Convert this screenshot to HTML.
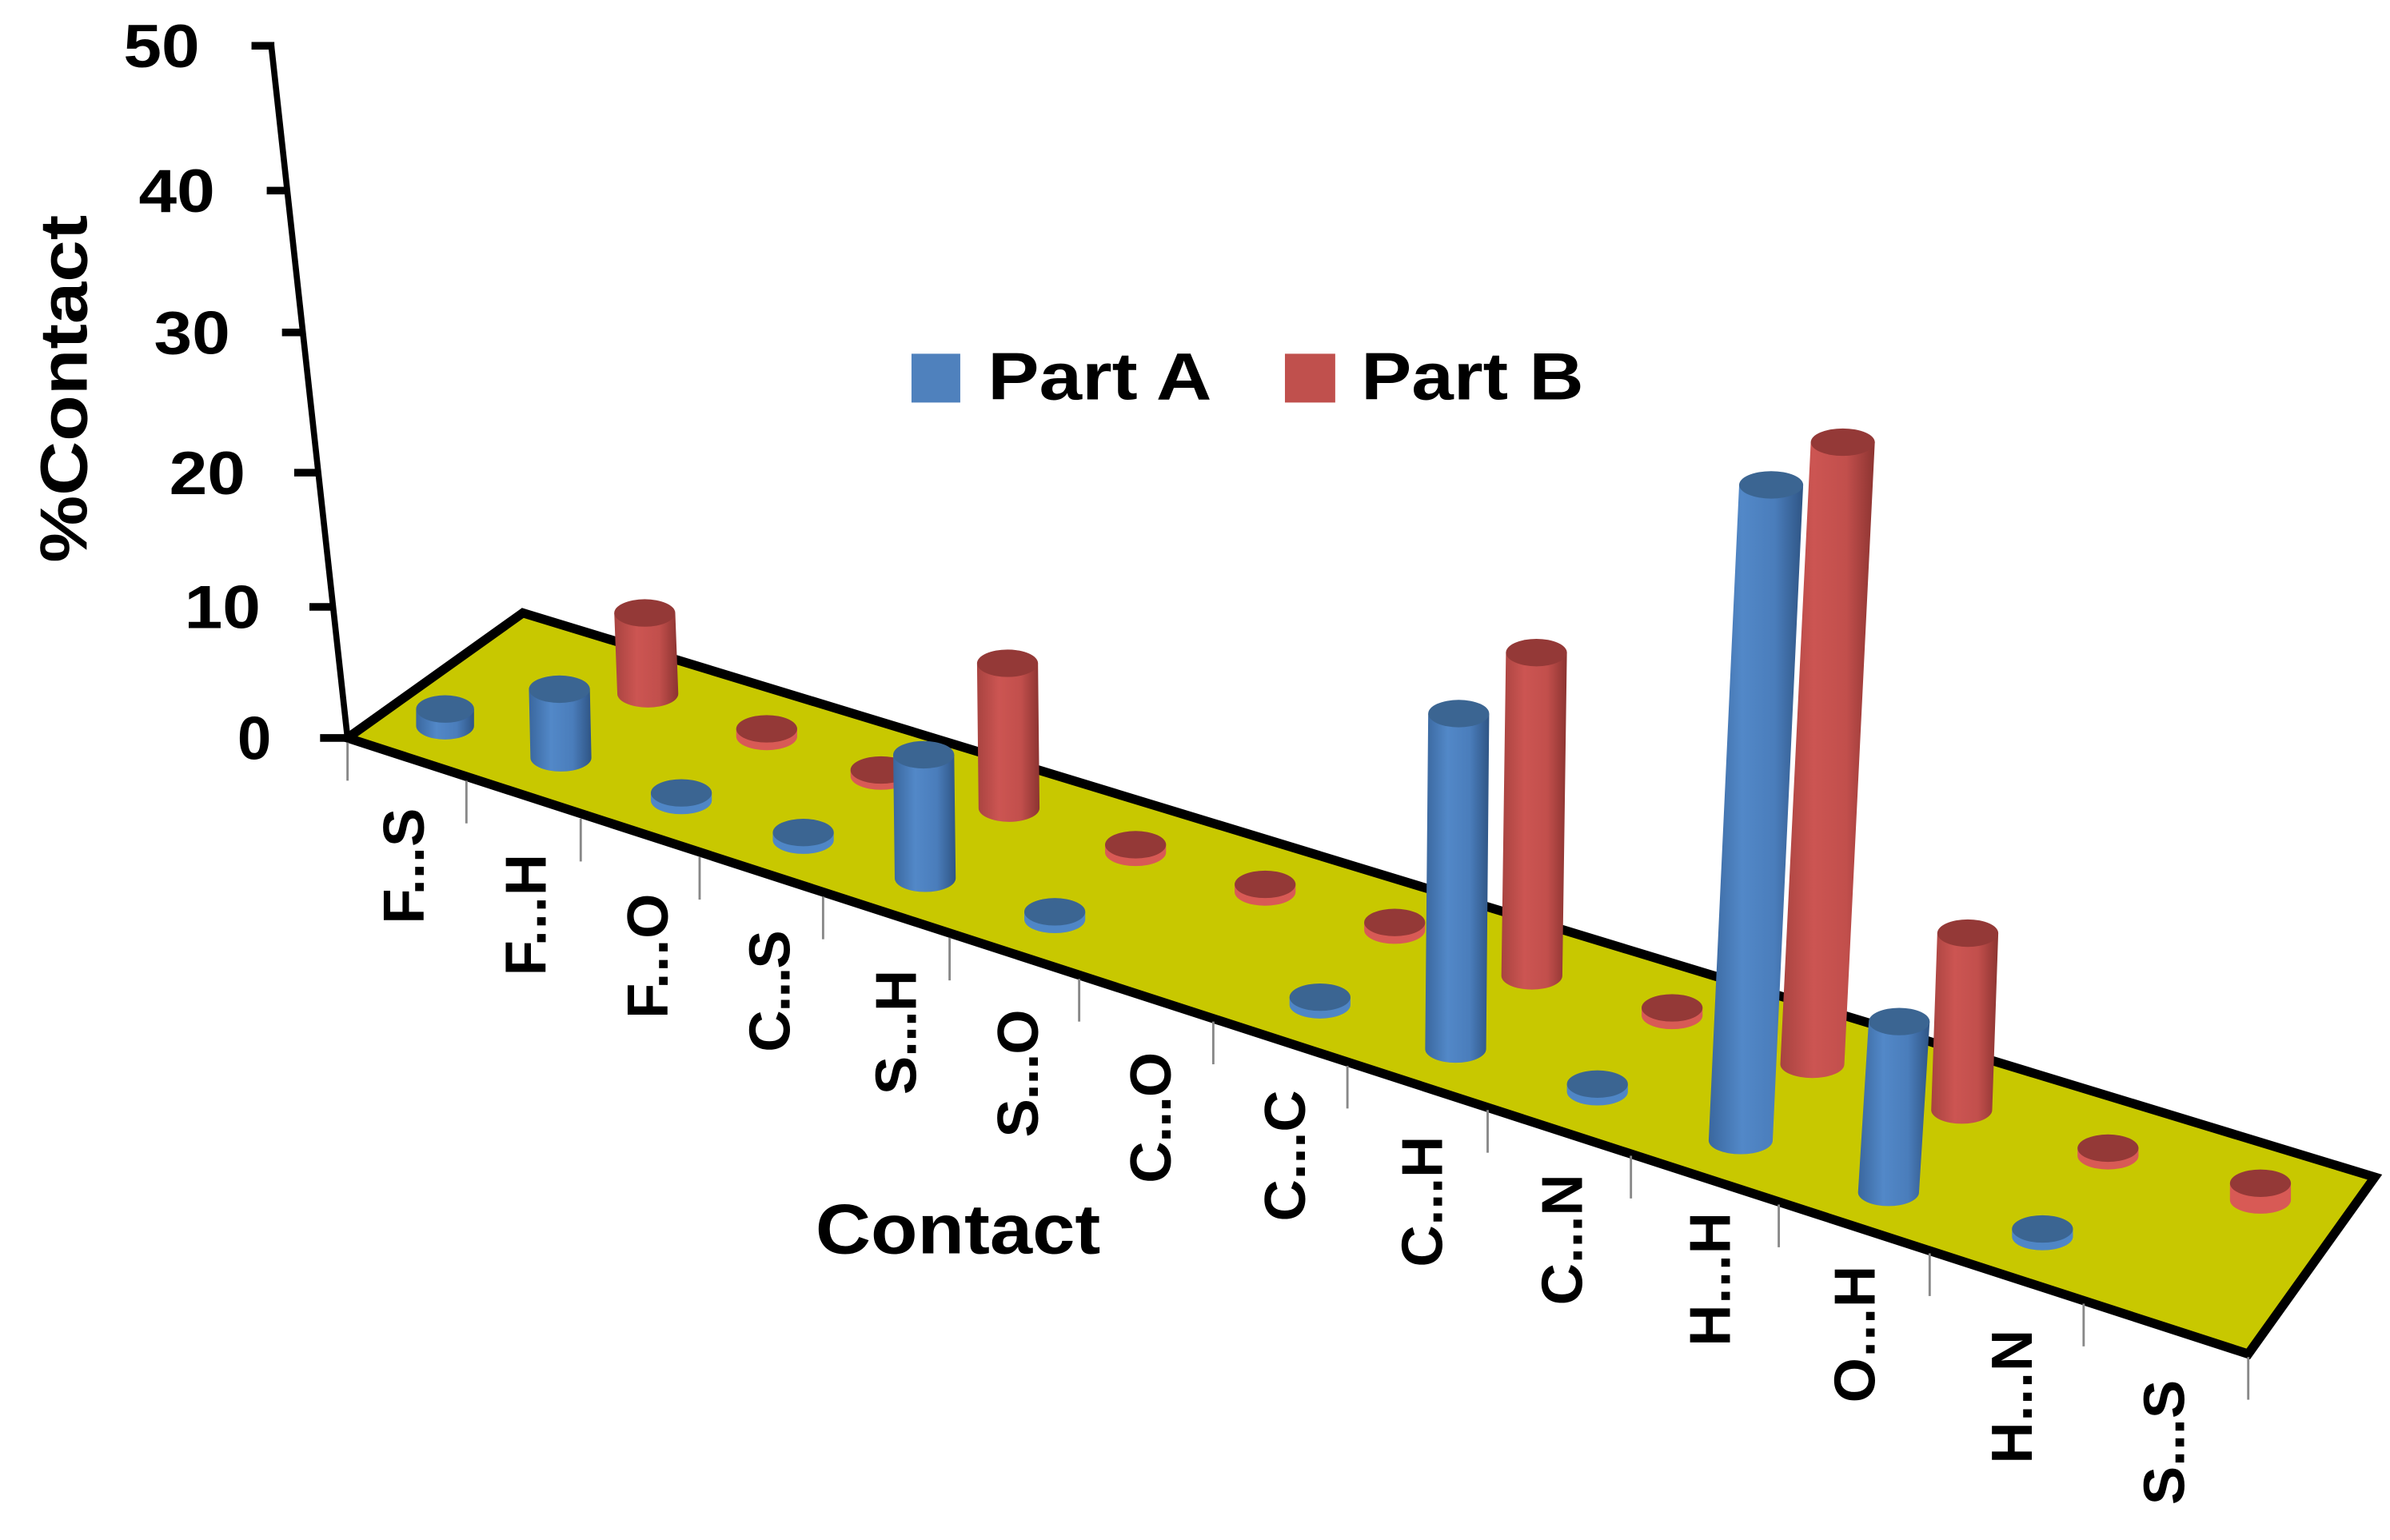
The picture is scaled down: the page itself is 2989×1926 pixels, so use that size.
<!DOCTYPE html>
<html><head><meta charset="utf-8"><style>html,body{margin:0;padding:0;background:#fff}svg{display:block}</style></head>
<body>
<svg width="2989" height="1926" viewBox="0 0 1568 1010" preserveAspectRatio="none" xmlns="http://www.w3.org/2000/svg">
<defs>
<linearGradient id="gb" x1="0" x2="1" y1="0" y2="0"><stop offset="0" stop-color="#3a679e"/><stop offset="0.35" stop-color="#5288c8"/><stop offset="0.7" stop-color="#4a7dbb"/><stop offset="1" stop-color="#2f5585"/></linearGradient>
<linearGradient id="gr" x1="0" x2="1" y1="0" y2="0"><stop offset="0" stop-color="#a84340"/><stop offset="0.35" stop-color="#cc5552"/><stop offset="0.7" stop-color="#c24f4c"/><stop offset="1" stop-color="#8c3431"/></linearGradient>
</defs>
<g font-family="Liberation Sans, sans-serif" font-weight="bold">
<line x1="178" y1="30" x2="228" y2="484" stroke="#000" stroke-width="4"/>
<g stroke="#000" stroke-width="5">
<line x1="165" y1="30" x2="180" y2="30"/>
<line x1="175" y1="125" x2="189" y2="125"/>
<line x1="185" y1="218" x2="199" y2="218"/>
<line x1="193" y1="310" x2="208" y2="310"/>
<line x1="203" y1="398" x2="217" y2="398"/>
<line x1="210" y1="484" x2="228" y2="484"/>
</g>
<g font-size="40" text-anchor="end">
<text x="131" y="44" textLength="50" lengthAdjust="spacingAndGlyphs">50</text>
<text x="141" y="139" textLength="50" lengthAdjust="spacingAndGlyphs">40</text>
<text x="151" y="232" textLength="50" lengthAdjust="spacingAndGlyphs">30</text>
<text x="161" y="324" textLength="50" lengthAdjust="spacingAndGlyphs">20</text>
<text x="171" y="412" textLength="50" lengthAdjust="spacingAndGlyphs">10</text>
<text x="178" y="498">0</text>
</g>
<text transform="translate(57,255) rotate(-90)" font-size="44" text-anchor="middle" textLength="228" lengthAdjust="spacingAndGlyphs">%Contact</text>
<polygon points="228,484 343,402 1558,772 1475,888" fill="#c8c800" stroke="#000" stroke-width="6" stroke-linejoin="miter"/>
<g stroke="#888" stroke-width="1.5">
<line x1="228" y1="487" x2="228" y2="512"/><line x1="306" y1="512" x2="306" y2="540"/><line x1="381" y1="537" x2="381" y2="565"/><line x1="459" y1="562" x2="459" y2="590"/><line x1="540" y1="588" x2="540" y2="616"/><line x1="623" y1="615" x2="623" y2="643"/><line x1="708" y1="642" x2="708" y2="670"/><line x1="796" y1="670" x2="796" y2="698"/><line x1="884" y1="699" x2="884" y2="727"/><line x1="976" y1="728" x2="976" y2="756"/><line x1="1070" y1="758" x2="1070" y2="786"/><line x1="1167" y1="790" x2="1167" y2="818"/><line x1="1266" y1="822" x2="1266" y2="850"/><line x1="1367" y1="855" x2="1367" y2="883"/><line x1="1475" y1="890" x2="1475" y2="918"/>
</g>
<g>
<path d="M403,402 L405,455 A20,9 0 0 0 445,455 L443,402 Z" fill="url(#gr)"/><ellipse cx="423" cy="402" rx="20" ry="9" fill="#943937"/>
<path d="M483,478 L483,483 A20,9 0 0 0 523,483 L523,478 Z" fill="#d85a55"/><ellipse cx="503" cy="478" rx="20" ry="9" fill="#943937"/>
<path d="M558,505 L558,509 A20,9 0 0 0 598,509 L598,505 Z" fill="#d85a55"/><ellipse cx="578" cy="505" rx="20" ry="9" fill="#943937"/>
<path d="M641,435 L642,530 A20,9 0 0 0 682,530 L681,435 Z" fill="url(#gr)"/><ellipse cx="661" cy="435" rx="20" ry="9" fill="#943937"/>
<path d="M725,554 L725,559 A20,9 0 0 0 765,559 L765,554 Z" fill="#d85a55"/><ellipse cx="745" cy="554" rx="20" ry="9" fill="#943937"/>
<path d="M810,580 L810,585 A20,9 0 0 0 850,585 L850,580 Z" fill="#d85a55"/><ellipse cx="830" cy="580" rx="20" ry="9" fill="#943937"/>
<path d="M895,605 L895,610 A20,9 0 0 0 935,610 L935,605 Z" fill="#d85a55"/><ellipse cx="915" cy="605" rx="20" ry="9" fill="#943937"/>
<path d="M988,428 L985,640 A20,9 0 0 0 1025,640 L1028,428 Z" fill="url(#gr)"/><ellipse cx="1008" cy="428" rx="20" ry="9" fill="#943937"/>
<path d="M1077,661 L1077,666 A20,9 0 0 0 1117,666 L1117,661 Z" fill="#d85a55"/><ellipse cx="1097" cy="661" rx="20" ry="9" fill="#943937"/>
<path d="M1188,290 L1168,698 A21,9 0 0 0 1210,698 L1230,290 Z" fill="url(#gr)"/><ellipse cx="1209" cy="290" rx="21" ry="9" fill="#943937"/>
<path d="M1271,612 L1267,728 A20,9 0 0 0 1307,728 L1311,612 Z" fill="url(#gr)"/><ellipse cx="1291" cy="612" rx="20" ry="9" fill="#943937"/>
<path d="M1363,753 L1363,758 A20,9 0 0 0 1403,758 L1403,753 Z" fill="#d85a55"/><ellipse cx="1383" cy="753" rx="20" ry="9" fill="#943937"/>
<path d="M1463,776 L1463,787 A20,9 0 0 0 1503,787 L1503,776 Z" fill="#d85a55"/><ellipse cx="1483" cy="776" rx="20" ry="9" fill="#943937"/>
</g>
<g>
<path d="M273,465 L273,476 A19,9 0 0 0 311,476 L311,465 Z" fill="url(#gb)"/><ellipse cx="292" cy="465" rx="19" ry="9" fill="#3b6592"/>
<path d="M347,452 L348,497 A20,9 0 0 0 388,497 L387,452 Z" fill="url(#gb)"/><ellipse cx="367" cy="452" rx="20" ry="9" fill="#3b6592"/>
<path d="M427,520 L427,525 A20,9 0 0 0 467,525 L467,520 Z" fill="#4f86c6"/><ellipse cx="447" cy="520" rx="20" ry="9" fill="#3b6592"/>
<path d="M507,546 L507,551 A20,9 0 0 0 547,551 L547,546 Z" fill="#4f86c6"/><ellipse cx="527" cy="546" rx="20" ry="9" fill="#3b6592"/>
<path d="M586,495 L587,576 A20,9 0 0 0 627,576 L626,495 Z" fill="url(#gb)"/><ellipse cx="606" cy="495" rx="20" ry="9" fill="#3b6592"/>
<path d="M672,598 L672,603 A20,9 0 0 0 712,603 L712,598 Z" fill="#4f86c6"/><ellipse cx="692" cy="598" rx="20" ry="9" fill="#3b6592"/>
<path d="M846,654 L846,659 A20,9 0 0 0 886,659 L886,654 Z" fill="#4f86c6"/><ellipse cx="866" cy="654" rx="20" ry="9" fill="#3b6592"/>
<path d="M937,468 L935,688 A20,9 0 0 0 975,688 L977,468 Z" fill="url(#gb)"/><ellipse cx="957" cy="468" rx="20" ry="9" fill="#3b6592"/>
<path d="M1028,711 L1028,716 A20,9 0 0 0 1068,716 L1068,711 Z" fill="#4f86c6"/><ellipse cx="1048" cy="711" rx="20" ry="9" fill="#3b6592"/>
<path d="M1141,318 L1121,748 A21,9 0 0 0 1163,748 L1183,318 Z" fill="url(#gb)"/><ellipse cx="1162" cy="318" rx="21" ry="9" fill="#3b6592"/>
<path d="M1226,670 L1219,782 A20,9 0 0 0 1259,782 L1266,670 Z" fill="url(#gb)"/><ellipse cx="1246" cy="670" rx="20" ry="9" fill="#3b6592"/>
<path d="M1320,806 L1320,811 A20,9 0 0 0 1360,811 L1360,806 Z" fill="#4f86c6"/><ellipse cx="1340" cy="806" rx="20" ry="9" fill="#3b6592"/>
</g>
<rect x="598" y="232" width="32" height="32" fill="#4f81bd"/>
<text x="648" y="262" font-size="44" textLength="147" lengthAdjust="spacingAndGlyphs">Part A</text>
<rect x="843" y="232" width="33" height="32" fill="#c0504d"/>
<text x="893" y="262" font-size="44" textLength="146" lengthAdjust="spacingAndGlyphs">Part B</text>
<text x="535" y="822" font-size="46" textLength="187" lengthAdjust="spacingAndGlyphs">Contact</text>
<g font-size="38" text-anchor="end" lengthAdjust="spacingAndGlyphs">
<text transform="translate(278,530) rotate(-90)" textLength="76">F...S</text>
<text transform="translate(358,560) rotate(-90)" textLength="80">F...H</text>
<text transform="translate(438,586) rotate(-90)" textLength="82">F...O</text>
<text transform="translate(518,610) rotate(-90)" textLength="80">C...S</text>
<text transform="translate(601,636) rotate(-90)" textLength="82">S...H</text>
<text transform="translate(681,662) rotate(-90)" textLength="84">S...O</text>
<text transform="translate(768,690) rotate(-90)" textLength="86">C...O</text>
<text transform="translate(856,715) rotate(-90)" textLength="86">C...C</text>
<text transform="translate(946,745) rotate(-90)" textLength="86">C...H</text>
<text transform="translate(1038,770) rotate(-90)" textLength="86">C...N</text>
<text transform="translate(1135,795) rotate(-90)" textLength="88">H...H</text>
<text transform="translate(1230,830) rotate(-90)" textLength="90">O...H</text>
<text transform="translate(1333,872) rotate(-90)" textLength="88">H...N</text>
<text transform="translate(1433,905) rotate(-90)" textLength="82">S...S</text>
</g>
</g>
</svg>
</body></html>
